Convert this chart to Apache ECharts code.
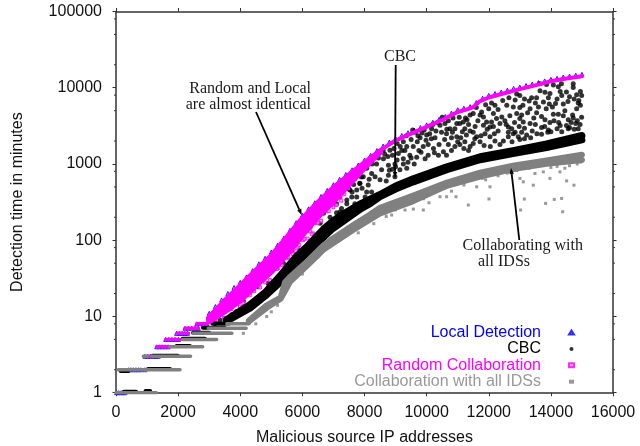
<!DOCTYPE html>
<html><head><meta charset="utf-8">
<style>html,body{margin:0;padding:0;background:#fff}#c{width:640px;height:446px}</style>
<script src="https://cdn.jsdelivr.net/npm/echarts@6/dist/echarts.min.js"></script>
</head><body><div id="c"></div>
<script>
const yTickValues=[1,10,100,1000,10000,100000];
const minorTickValues=[2,5,8,20,50,80,200,500,800,2000,5000,8000,20000,50000,80000];

const localPts=[[20,1],[90,1],[160,1],[230,1],[290,1],[400,2],[480,2],[560,2],[640,2],[720,2],[800,2],[930,2],[930,3],[1020,3],[1110,3],[1200,3],[1290,3],[1360,3],[1310,4],[1400,4],[1490,4],[1580,4],[1680,4],[1600,5],[1700,5],[1800,5],[1900,5],[2010,5],[1950,6],[2040,6],[2130,6],[2220,6],[2300,6],[2220,7],[2330,7],[2440,7],[2550,7],[2650,7],[2600,8],[2700,8],[2810,8],[2920,8],
[3000,11],[3200,13.5],[3400,16.5],[3600,20],[3800,24],[4000,28],[4200,33],[4400,40],[4600,49],[4800,58],[5000,70],[5200,86],[5400,106],[5600,135],[5800,170],[6000,212],[6200,258],[6400,310],[6600,375],[6800,450],[7000,535],[7200,630],[7400,730],[7600,840],[7800,970],[8000,1130],[8200,1300],[8400,1500],[8600,1720],[8800,1940],[9000,2170],[9200,2370],[9400,2570],[9600,2790],[9800,3010],[10000,3260],[10200,3530],[10400,3850],[10600,4200],[10800,4650],[11000,5150],[11200,5400],[11400,5650],[11600,6400],[11800,7300],[12000,7950],[12200,8400],[12400,8800],[12600,9300],[12800,9800],[13000,10200],[13200,10700],[13400,11200],[13600,11700],[13800,12300],[14000,12900],[14200,13300],[14400,13800],[14600,14200],[14800,14600],[15000,15000]];

const cbcRuns=[[1.03,250,650],[1.05,950,1100],[1.93,150,400],[2.05,1030,1740],[3.05,1180,1990],[4.1,1950,2380],[5.1,2150,2860],[6.1,2480,3000],[7.1,2800,3500],[8.1,3100,3650]];
const cbcBandUpper=[[3560,9.1],[4310,14.3],[4800,20.6],[5280,34],[5816,62],[6140,82],[6700,143],[6960,175],[7310,221],[7900,305],[8180,345],[8500,398],[9000,513],[9570,640],[10650,920],[11720,1242],[12780,1493],[13860,1837],[15000,2366]];
const cbcBandLower=[[3560,8.7],[4310,12.8],[4800,18.5],[5280,28],[5816,50],[6140,67],[6700,111],[6960,140],[7310,176],[7900,261],[8180,302],[8500,372],[9000,468],[9570,583],[10650,843],[11720,1138],[12780,1368],[13860,1644],[15000,2070]];
const cbcDots=[[14720,11300],[14720,10100],[14340,11300],[14240,10300],[14500,8800],[14830,8100],[14990,7900],[14880,6300],[14830,5300],[14990,4100],[14720,4000],[14560,3800],[14400,4300],[14240,4500],[14080,4500],[13970,3500],[13700,3000],[13920,2800],[14560,2900],[14880,2900],[14940,3300],[14080,10900],[13860,11000],[13650,11300],[13970,8400],[13810,8700],[13650,9100],[13920,7400],[13760,6500],[13540,7400],[13380,7400],[13330,5300],[13540,4700],[13700,4200],[13810,3800],[14900,6800],[14950,5900],[14700,4400],[14650,3500],[14300,3200],[14450,5000],[14150,6200],[14050,5600],[14600,7600],[14300,8900],[14800,3400],[14500,3200],[14200,2900],[13600,5600],[13450,4000],[13250,4700],[13100,5900],
[13000,7900],[12900,8300],[12580,5900],[12790,5600],[13000,5500],[12900,4600],[13060,4400],[13110,3560],[13330,3400],[13000,3950],[12630,3050],[12740,2900],[13220,2400],[13060,2600],[12950,2280],[12630,2280],[12420,4140],[12360,3400],[12250,3950],[12150,4600],[12090,6300],[12200,5900],[11770,4800],[11830,4140],[11720,4400],[12090,3560],[11930,3560],[12040,3050],[11830,3220],[11500,4600],[11400,4400],[11880,2500],[12040,2280],[12200,2000],[12360,1800],[12470,2000],[12630,2600],[12790,2500],[11500,2600],[11610,2280],[11720,1950],[11400,2700],[11230,2900],[11070,3400],[11180,3560],[10970,3400],[10910,2900],[10750,2900],[10590,3400],[10430,3220],[10480,2600],[10640,2500],[10800,2200],[10970,2280],[11070,1800],[11230,1950],[11400,1700],[10910,1700],[10700,1800],[10540,1450],[10380,1300],[10640,1300],[10160,2900],[10000,2400],[10270,2200],[10050,1800],[9890,1700],[10220,1600],[10050,1300],[9790,2200],[9630,2600],[9570,1700],[9360,1700],[9200,1500],[9460,1300],[9680,1230],[9950,1170],[9090,1370],[9250,1170],[8980,1000],[9140,840],[9360,880],[8820,1510],[8610,1170],[8770,960],[8390,1000],[8550,840],[8340,680],[8770,710],[8980,680],[8070,880],[8230,750],[7960,680],[7850,555],[8120,530],[7750,455],[7590,370],[8020,370],[8230,430],[7430,336],[7690,300],[7210,370],[7260,260],[7050,300],[7100,230],[6730,280],[6680,225],[6570,260],[6460,200],
[12520,3700],[12680,4300],[12830,3500],[12980,3100],[13150,2950],[13400,2700],[13550,2500],[13700,2450],[12300,2700],[12150,3100],[11650,3700],[11560,3100],[11350,3300],[11280,2400],[11100,2200],[11000,1950],[10830,2600],[10700,3700],[10850,4000],[11050,4100],[11250,4000],[10300,2700],[10150,2150],[9980,2050],[9850,2550],[9700,1950],[9500,2100],[9350,2350],[9250,1950],[9050,1850],[8900,1300],[9050,1130],[9400,1050],[9600,1000],[9820,1430],[10400,1800],[10580,2100],[11350,1500],[11500,1850],[11850,1750],[12050,1700],[12750,1950],[13000,2100],[13350,2200],[8650,1350],[8450,1200],[8250,1000],[8500,620],[8700,600],[8900,850],[8150,630],[7920,480],[7650,540],[7500,470],
[13900,2600],[14100,3700],[14250,3500],[14600,3000],[14850,3700],[14400,6100],[14550,6600],[14750,7100],[14950,8900],[13850,5300],[13950,6100],[14200,7100],[14350,7900],[13500,6300],[13300,6700],[13150,7100],[12850,6900],[12650,7400],[12450,6800],[12300,5200],[12000,5300],[11900,6000],[11600,5500],[11300,3800],[11150,2650],[10650,2850],[10500,4100],[10350,3500],[10200,3300],[10100,2500],[9920,2800],[9720,2350],[9550,2800],[9300,1500],[9150,1700],[8950,1600],[8750,1250],[8600,1500],[8400,1350],[8200,1200],[8000,1020],[7800,800],[7600,430],[12180,2500],[12560,3300],[12850,2600],[13150,2150],[13500,3300],[13800,3100],[14000,2650],[14350,2650],[14750,2850],[11750,2350],[11950,2850],[11550,2150],[10250,1400],[10800,1500],[11200,1600],[9750,1500],[9500,1200],[9250,1000],[9000,920],[8800,830],
[5920,74],[5710,55],[5550,47],[5390,50],[5170,50],[5330,58],[5010,41],[4850,37],[4900,27],[4580,24.5],[4630,32],[4420,22.5],[4150,19],[3990,16],[4310,13],[4100,16],[3880,11.6],[3720,14],[3350,8.9],[3190,8.1],[3510,9.5],[3720,10.5],[6670,275],[7100,300],[7530,455],[7850,560],[8070,430],[7750,370],[7430,300],[7210,235],[6890,200],[6570,167],[6250,148],[5980,110],[5820,95],[5660,74],[6460,200],[6780,275],[7640,676],[7900,676]];

const randomRuns=[[3,1020,1150],[4,1310,1740],[5,1600,2060],[6,1975,2330],[7,2220,2650],[8,2600,2920]];
const randomUpper=[[3000,10],[3500,16.5],[4000,26],[4500,41],[5000,64],[5500,113],[6000,198],[6500,320],[7000,500],[7500,735],[8000,1055],[8500,1510],[9000,2030],[9500,2500],[10000,3060],[10500,3770],[11000,4800],[11300,5200],[11500,5570],[11700,6600],[12000,7450],[12500,8480],[13000,9600],[13500,10750],[14000,12150],[14500,13200],[15000,14150]];
const randomFillHigh=[[3000,9.6],[3500,15],[4000,23.5],[4500,37],[5000,57],[5500,100],[6000,175],[6500,288],[7000,450],[7500,680],[8000,1010]];
const randomMiddle=[[3000,9.3],[3500,14],[4000,21],[4500,33],[5000,50],[5500,86],[6000,152],[6500,255],[7000,400],[7500,625],[8000,965],[8500,1450]];
const randomFillLow=[[3000,8.9],[3500,12.7],[4000,18.3],[4500,29],[5000,44],[5500,74],[6000,132],[6500,226],[7000,358],[7500,575]];
const randomLower=[[3000,8.5],[3500,11.5],[4000,16],[4500,25],[5000,38],[5500,64],[6000,115],[6500,200],[7000,320],[7500,530],[8000,880],[8500,1400]];
const randomDots=[[6020,100],[6250,130],[6350,123],[6460,167],[6720,250],[6500,170],[6060,104],[6170,105],[5850,82],[5660,70],[5500,58],[6990,290],[7210,370],[7470,480],[7690,640],[6780,240],[5550,60],[5225,43],[5180,42],[4960,30],[4800,28],[4640,24],[4310,19],[3990,13.5],[4100,15],[3720,12.5],[3610,12],[3480,9.6],[3190,9],[3300,10],[4450,21.5],[5800,72],[5900,86],[7000,270],[7250,330],[7350,400],[6600,180],[6850,240],[7100,290],[5350,47],[5700,66],[6300,120]];

const allRuns=[[1,0,1300],[2,70,2060],[3,880,1020],[3,1150,2400],[4,1740,2790],[5,2150,3240],[6,2480,3730],[7,2970,4190],[8,3570,4280]];
const allBandUpper=[[4280,8.85],[4850,14],[5300,17.7],[5440,28],[5600,33],[6120,51],[6670,85],[6960,104],[7630,157],[8180,217],[8500,267],[9570,386],[10650,571],[11720,771],[12780,948],[13860,1114],[15000,1324]];
const allBandLower=[[4280,8.6],[4850,13],[5300,17.1],[5440,21.5],[5600,28.4],[6120,45],[6670,75],[6960,90],[7630,136],[8180,187],[8500,225],[9570,326],[10650,516],[11720,681],[12780,857],[13860,1007],[15000,1130]];
const allDots=[[11342,289],[12007,347],[13145,347],[13830,304],[14110,343],[14346,353],[14379,236],[13026,249],[9893,249],[10076,310],[10430,372],[10644,372],[10945,372],[12039,502],[11610,502],[14507,600],[14743,527],[13970,647],[14292,788],[13756,788],[13488,750],[13434,527],[13113,583],[13005,647],[9572,256],[9304,249],[8874,214],[8660,225],[4100,6],[4850,10],[4500,8],[5000,11.5],[5200,14],[6000,36],[6500,60],[7200,100],[7800,125],[8300,165],[9000,250],[9900,350],[10300,470],[11000,560],[11200,530],[11900,620],[12300,700],[12600,760],[13300,880],[14000,900],[14600,950],[14850,1000],[10800,440],[9400,300],[8700,205],[10550,480],[11100,590],[11450,620],[11800,650],[12150,740],[12450,800],[12900,820],[13600,950],[14200,930],[14450,880],[14950,1060]];

const fam='"Liberation Sans",Arial,sans-serif';
function runsToLine(runs){const d=[];runs.forEach(r=>{d.push([r[1],r[0]],[r[2],r[0]],['-','-']);});return d;}
function band(name,data,color,w){return {name,type:'line',data,symbol:'none',silent:true,lineStyle:{color,width:w,cap:'round',join:'round'},animation:false};}
const BLUE='#0000ff',BLACK='#000',MAG='#ff00ff',GREY='#808080';
const series=[
 {name:'Local Detection',type:'scatter',data:localPts,symbol:'triangle',symbolSize:4,itemStyle:{color:'#9090ff',borderColor:BLUE,borderWidth:1}},
 band('cbcRunsLine',runsToLine(cbcRuns),BLACK,4),
 band('cbcUp',cbcBandUpper,BLACK,7),band('cbcLow',cbcBandLower,BLACK,7),
 {name:'CBC',type:'scatter',data:cbcDots,symbol:'circle',symbolSize:5,itemStyle:{color:BLACK}},
 band('randRunsLine',runsToLine(randomRuns),MAG,3.5),
 band('randUp',randomUpper,MAG,4),band('randHi',randomFillHigh,MAG,6),band('randMid',randomMiddle,MAG,6),band('randLo',randomFillLow,MAG,6),band('randLow',randomLower,MAG,5),
 {name:'Random Collaboration',type:'scatter',data:randomDots,symbol:'rect',symbolSize:3,itemStyle:{color:'#ff90ff',borderColor:MAG,borderWidth:1}},
 band('allRunsLine',runsToLine(allRuns),GREY,3.5),
 band('allUp',allBandUpper,GREY,6),band('allLow',allBandLower,GREY,6),
 {name:'Collaboration with all IDSs',type:'scatter',data:allDots,symbol:'rect',symbolSize:3,itemStyle:{color:GREY}},
 {name:'minor',type:'custom',silent:true,clip:false,data:minorTickValues.map(v=>[0,v]),encode:{x:0,y:1},
  renderItem(params,api){
    const p=api.coord([0,api.value(1)]);const r=params.coordSys.x+params.coordSys.width;
    const st={stroke:'#333',lineWidth:1};
    return {type:'group',children:[
      {type:'line',shape:{x1:p[0],y1:p[1],x2:p[0]-2,y2:p[1]},style:st},
      {type:'line',shape:{x1:r,y1:p[1],x2:r+2,y2:p[1]},style:st}]};
  }}
];
function arrow(x1,y1,x2,y2){
  const a=Math.atan2(y2-y1,x2-x1),L=6,W=2.2;
  const bx=x2-L*Math.cos(a),by=y2-L*Math.sin(a),nx=-Math.sin(a)*W,ny=Math.cos(a)*W;
  return [{type:'line',z:50,shape:{x1,y1,x2:bx,y2:by},style:{stroke:'#000',lineWidth:1.8}},
          {type:'polygon',z:50,shape:{points:[[x2,y2],[bx+nx,by+ny],[bx-nx,by-ny]]},style:{fill:'#000'}}];
}
function note(text,x,y,align){return {type:'text',z:50,x,y,style:{text,font:'16px "Liberation Serif",serif',fill:'#1a1a1a',textAlign:align,textVerticalAlign:'middle'}};}
const axisCommon={axisLine:{show:true,onZero:false,lineStyle:{color:'#333',width:1.5}},axisTick:{show:true,length:3.5,inside:false,lineStyle:{color:'#333',width:1}},splitLine:{show:false},minorTick:{show:false}};
const chart=echarts.init(document.getElementById('c'),null,{renderer:'canvas'});
const legendText=c=>({color:c,fontFamily:fam,fontSize:16,lineHeight:16,padding:[0,23,0,0]});
chart.setOption({
 animation:false,backgroundColor:'#fff',
 grid:{left:116,top:11.5,width:497,height:381.2,containLabel:false,outerBoundsMode:'none'},
 legend:{data:[{name:'Local Detection',textStyle:legendText(BLUE)},{name:'CBC',textStyle:legendText('#000')},{name:'Random Collaboration',textStyle:legendText(MAG)},{name:'Collaboration with all IDSs',textStyle:legendText('#999')}],orient:'vertical',align:'right',right:65,top:324.5,itemGap:0.4,itemWidth:5,itemHeight:4,selectedMode:false,padding:0},
 xAxis:[
  Object.assign({},axisCommon,{type:'value',min:0,max:16000,interval:2000,position:'bottom',name:'Malicious source IP addresses',nameLocation:'middle',nameGap:37,nameTextStyle:{fontFamily:fam,fontSize:16,color:'#111'},axisLabel:{fontFamily:fam,fontSize:16,color:'#111',margin:12,formatter:v=>String(v)}}),
  Object.assign({},axisCommon,{type:'value',min:0,max:16000,interval:2000,position:'top',axisLabel:{show:false}})
 ],
 yAxis:[
  Object.assign({},axisCommon,{type:'log',logBase:10,min:1,max:100000,position:'left',name:'Detection time in minutes',nameLocation:'middle',nameGap:90,nameTextStyle:{fontFamily:fam,fontSize:16,color:'#111'},axisLabel:{fontFamily:fam,fontSize:16,color:'#111',margin:14,formatter:v=>{const r=Math.round(v);return yTickValues.includes(r)?String(r):'';}}}),
  Object.assign({},axisCommon,{type:'log',logBase:10,min:1,max:100000,position:'right',axisLabel:{show:false}})
 ],
 series,
 graphic:{elements:[
  ...arrow(395.7,65,395,178),...arrow(256,112,301.7,215),...arrow(519.3,240,511,168),
  note('CBC',400,57,'center'),
  note('Random and Local',311,89,'right'),note('are almost identical',311,105,'right'),
  note('Collaborating with',583,246,'right'),note('all IDSs',478,262,'left')
 ]}
});
</script></body></html>
